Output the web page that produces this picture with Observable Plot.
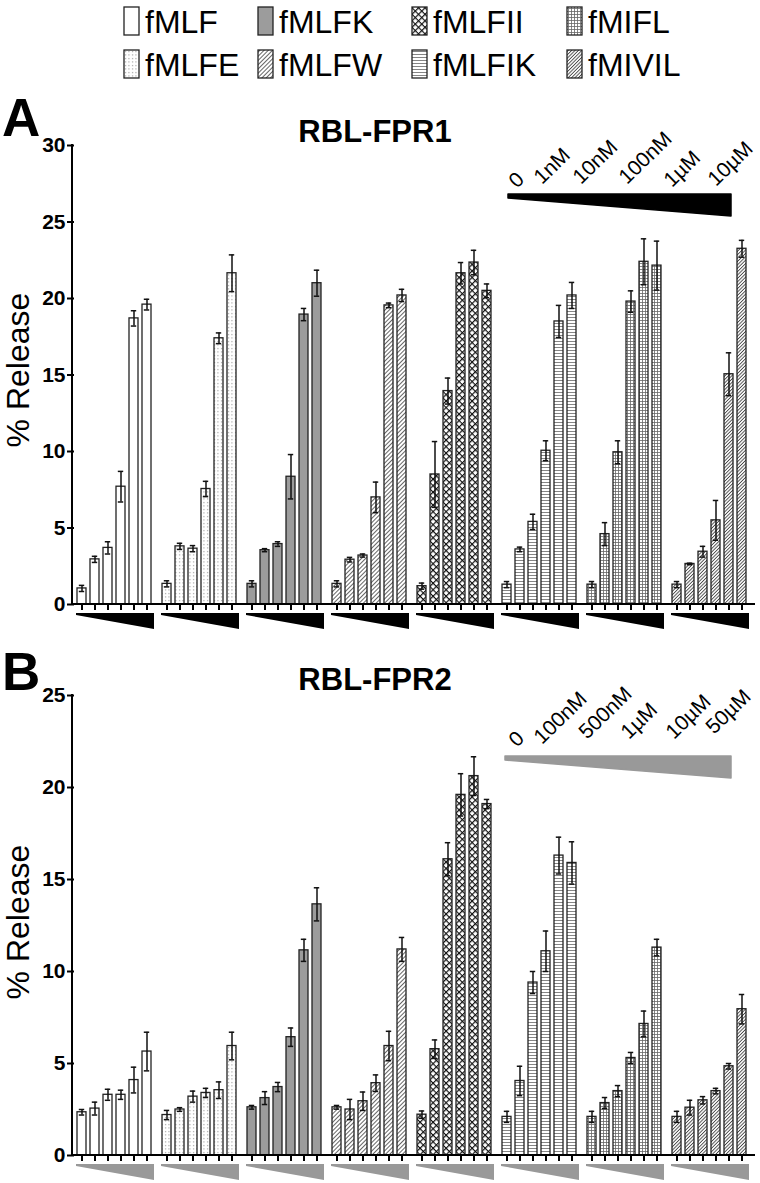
<!DOCTYPE html>
<html>
<head>
<meta charset="utf-8">
<script src="https://cdn.jsdelivr.net/npm/d3@7"></script>
<script src="https://cdn.jsdelivr.net/npm/@observablehq/plot@0.6"></script>
<style>
  body { margin: 0; background: #fff; font-family: "Liberation Sans", Arial, sans-serif; }
  svg { display: block; }
</style>
</head>
<body>
<div id="legend"></div>
<div id="chartA"></div>
<div id="chartB"></div>
<script>
// peptides, in the order of the bar groups
const peptides = ["fMLF", "fMLFE", "fMLFK", "fMLFW", "fMLFII", "fMLFIK", "fMIFL", "fMIVIL"];
const doses = [0, 1, 2, 3, 4, 5];
const dosesA = ["0", "1nM", "10nM", "100nM", "1µM", "10µM"];
const dosesB = ["0", "100nM", "500nM", "1µM", "10µM", "50µM"];
const ticksA = [0, 5, 10, 15, 20, 25, 30];
const ticksB = [0, 5, 10, 15, 20, 25];

// RBL-FPR1, % release (mean and error), one row per peptide
const fpr1Mean = [
  [1.05, 2.95, 3.7, 7.7, 18.7, 19.6],
  [1.35, 3.8, 3.65, 7.55, 17.4, 21.65],
  [1.35, 3.55, 3.95, 8.35, 18.95, 21.0],
  [1.35, 2.93, 3.2, 7.0, 19.55, 20.2],
  [1.2, 8.5, 13.95, 21.65, 22.35, 20.5],
  [1.3, 3.6, 5.4, 10.05, 18.5, 20.2],
  [1.3, 4.6, 9.95, 19.8, 22.4, 22.15],
  [1.3, 2.65, 3.45, 5.5, 15.05, 23.25]
];
const fpr1Err = [
  [0.2, 0.2, 0.4, 1.0, 0.5, 0.35],
  [0.2, 0.2, 0.2, 0.5, 0.35, 1.2],
  [0.2, 0.1, 0.15, 1.45, 0.4, 0.85],
  [0.2, 0.15, 0.1, 1.0, 0.15, 0.4],
  [0.2, 2.15, 0.85, 0.7, 0.8, 0.45],
  [0.2, 0.15, 0.5, 0.65, 1.05, 0.85],
  [0.2, 0.75, 0.75, 0.7, 1.5, 1.6],
  [0.2, 0.05, 0.35, 1.3, 1.4, 0.55]
];

// RBL-FPR2
const fpr2Mean = [
  [2.35, 2.55, 3.3, 3.3, 4.1, 5.65],
  [2.2, 2.5, 3.2, 3.4, 3.55, 5.95],
  [2.62, 3.12, 3.72, 6.43, 11.15, 13.65],
  [2.62, 2.5, 2.95, 3.93, 5.95, 11.2],
  [2.22, 5.78, 16.1, 19.6, 20.62, 19.1],
  [2.1, 4.05, 9.4, 11.1, 16.3, 15.9],
  [2.1, 2.85, 3.5, 5.3, 7.15, 11.3],
  [2.1, 2.6, 3.0, 3.5, 4.85, 7.95]
];
const fpr2Err = [
  [0.15, 0.35, 0.3, 0.25, 0.7, 1.05],
  [0.25, 0.1, 0.3, 0.25, 0.45, 0.75],
  [0.1, 0.35, 0.25, 0.5, 0.6, 0.9],
  [0.1, 0.55, 0.5, 0.45, 0.8, 0.65],
  [0.2, 0.5, 0.9, 1.15, 1.05, 0.25],
  [0.3, 0.8, 0.6, 1.1, 1.0, 1.15],
  [0.3, 0.3, 0.3, 0.3, 0.7, 0.45],
  [0.3, 0.4, 0.2, 0.15, 0.15, 0.8]
];

const fills = ["white", "url(#p-dots)", "#9c9c9c", "url(#p-diag)", "url(#p-cross)", "url(#p-hlines)", "url(#p-grid)", "url(#p-diag2)"];
const font = "Liberation Sans, Arial, sans-serif";

// legend (also holds the pattern defs used by both panels)
const legend = d3.select("#legend").append("svg").attr("width", 760).attr("height", 88);
const defs = legend.append("defs");
function pattern(id, w, h, rot) {
  const p = defs.append("pattern").attr("id", id).attr("width", w).attr("height", h)
    .attr("patternUnits", "userSpaceOnUse");
  if (rot) p.attr("patternTransform", `rotate(${rot})`);
  p.append("rect").attr("width", w).attr("height", h).attr("fill", "white");
  return p;
}
pattern("p-dots", 3.5, 3.5).append("rect").attr("x", 1).attr("y", 1).attr("width", 1).attr("height", 1).attr("fill", "#777");
pattern("p-diag", 3, 3, 45).append("line").attr("x1", 1.5).attr("x2", 1.5).attr("y1", 0).attr("y2", 3).attr("stroke", "#555").attr("stroke-width", 0.9);
pattern("p-diag2", 2.4, 2.4, 45).append("line").attr("x1", 1.2).attr("x2", 1.2).attr("y1", 0).attr("y2", 2.4).attr("stroke", "#444").attr("stroke-width", 0.9);
pattern("p-cross", 4.6, 4.6, 45).append("path").attr("d", "M0,0.6H4.6M0.6,0V4.6").attr("stroke", "#111").attr("stroke-width", 1.2);
pattern("p-hlines", 3, 3).append("line").attr("x1", 0).attr("x2", 3).attr("y1", 1.5).attr("y2", 1.5).attr("stroke", "#666").attr("stroke-width", 0.8);
pattern("p-grid", 3, 3).append("path").attr("d", "M0,1.5H3M1.5,0V3").attr("stroke", "#666").attr("stroke-width", 0.8);

const legendX = [124, 258, 412, 567];
const item = legend.selectAll("g").data(peptides).join("g")
  .attr("transform", (d, i) => `translate(${legendX[Math.floor(i / 2)]},${i % 2 ? 50 : 7})`);
item.append("rect").attr("width", 15).attr("height", 28)
  .attr("fill", (d, i) => fills[i]).attr("stroke", "#222").attr("stroke-width", 1.3);
item.append("text").attr("x", 21).attr("y", 26).text(d => d)
  .attr("font-family", font).attr("font-size", 32);

function panel(means, errs, yTicks, height, marginTop, marginBottom) {
  const rows = peptides.flatMap((p, g) => doses.map(d => ({
    peptide: p, dose: d, mean: means[g][d], lo: means[g][d] - errs[g][d], hi: means[g][d] + errs[g][d]
  })));
  return Plot.plot({
    width: 760,
    height,
    marginTop,
    marginBottom,
    marginLeft: 72,
    marginRight: 8,
    style: {fontFamily: font, color: "black", background: "white"},
    fx: {domain: peptides, axis: null, paddingInner: 0.046, paddingOuter: 0},
    x: {domain: doses, paddingInner: 0.3, paddingOuter: 0.15, axis: null},
    y: {domain: [0, d3.max(yTicks)], axis: null},
    color: {domain: peptides, range: fills},
    marks: [
      Plot.axisY({ticks: yTicks, tickSize: 7, tickPadding: 2, strokeWidth: 2, fontSize: 21, fontWeight: "bold", label: null}),
      Plot.axisX({tickSize: 6, strokeWidth: 2, tickFormat: () => "", label: null}),
      Plot.barY(rows, {fx: "peptide", x: "dose", y: "mean", fill: "peptide", stroke: "#222", strokeWidth: 1.3}),
      Plot.ruleX(rows, {fx: "peptide", x: "dose", y1: "lo", y2: "hi", stroke: "#111", strokeWidth: 1.5}),
      Plot.tickY(rows, {fx: "peptide", x: "dose", y: "lo", insetLeft: 1.8, insetRight: 1.8, stroke: "#111", strokeWidth: 1.5}),
      Plot.tickY(rows, {fx: "peptide", x: "dose", y: "hi", insetLeft: 1.8, insetRight: 1.8, stroke: "#111", strokeWidth: 1.5})
    ]
  });
}

function decorate(chart, o) {
  const svg = d3.select(chart);
  const fx = chart.scale("fx"), y = chart.scale("y");
  const y0 = y.apply(0), yTop = y.apply(o.ymax);
  const left = fx.range[0], right = fx.range[1];
  // axis lines
  svg.append("line").attr("x1", left).attr("x2", left).attr("y1", yTop - 1).attr("y2", y0 + 1)
    .attr("stroke", "black").attr("stroke-width", 2);
  svg.append("line").attr("x1", left).attr("x2", right + 3).attr("y1", y0).attr("y2", y0)
    .attr("stroke", "black").attr("stroke-width", 2);
  // dose wedges under each group
  svg.append("g").selectAll("path").data(peptides).join("path")
    .attr("d", p => {
      const a = fx.apply(p) + 2, b = fx.apply(p) + fx.bandwidth - 1, t = y0 + 9;
      return `M${a},${t}L${b},${t}L${b},${t + 16}L${a},${t + 2}Z`;
    })
    .attr("fill", o.wedge);
  // key wedge with dose labels
  const k = o.key;
  svg.append("path")
    .attr("d", `M${k.x0},${k.y}L${k.x1},${k.y}L${k.x1},${k.y + 22}L${k.x0},${k.y + 4}Z`)
    .attr("fill", o.wedge).attr("stroke", o.wedge).attr("stroke-linejoin", "round").attr("stroke-width", 1.5);
  svg.append("g").attr("text-anchor", "start").selectAll("text").data(o.labels).join("text")
    .attr("transform", (d, i) => `translate(${k.lx[i]},${k.ly[i]}) rotate(-44)`)
    .style("font-family", font).style("font-size", "21px").text(d => d);
  // title, panel letter, y label
  svg.append("text").attr("x", 375).attr("y", o.titleY).attr("text-anchor", "middle")
    .attr("font-family", font).attr("font-size", 31).attr("font-weight", "bold").text(o.title);
  svg.append("text").attr("x", 2).attr("y", o.letterY).attr("text-anchor", "start")
    .attr("font-family", font).attr("font-size", 53).attr("font-weight", "bold").text(o.letter);
  svg.append("text").attr("transform", `translate(29,${o.labelY}) rotate(-90)`).attr("text-anchor", "middle")
    .attr("font-family", font).attr("font-size", 32).text("% Release");
}

const chartA = panel(fpr1Mean, fpr1Err, ticksA, 552, 57, 36);
d3.select("#chartA").append(() => chartA);
decorate(chartA, {
  ymax: 30, wedge: "black", title: "RBL-FPR1", titleY: 54, letter: "A", letterY: 48, labelY: 282,
  labels: dosesA,
  key: {x0: 508, x1: 731, y: 106, lx: [517, 542, 581, 627, 672, 716], ly: [101, 97, 97, 97, 100, 99]}
});

const chartB = panel(fpr2Mean, fpr2Err, ticksB, 543, 55, 28);
d3.select("#chartB").append(() => chartB);
decorate(chartB, {
  ymax: 25, wedge: "#999", title: "RBL-FPR2", titleY: 50, letter: "B", letterY: 50, labelY: 282,
  labels: dosesB,
  key: {x0: 505, x1: 731, y: 116, lx: [517, 542, 587, 629, 674, 714], ly: [108, 105, 100, 100, 100, 95]}
});
</script>
</body>
</html>
